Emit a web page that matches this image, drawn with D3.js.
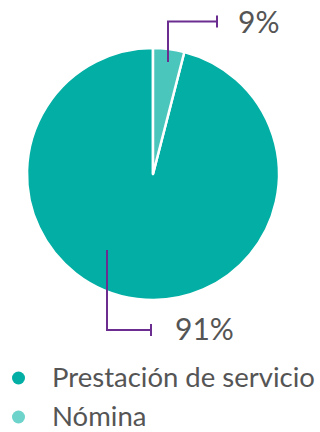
<!DOCTYPE html>
<html><head><meta charset="utf-8">
<script src="https://cdn.jsdelivr.net/npm/d3@7"></script>
<style>html,body{margin:0;padding:0;background:#fff;}svg{display:block;}</style>
</head><body>
<svg id="c" width="320" height="432"></svg>
<script>
const categories = ["Prestación de servicio", "Nómina"];
const sliceValues = [96, 4];          // angular share as drawn
const shareLabels = ["91%", "9%"];    // labels as printed
const colors = ["#03aea4", "#4bc6bc"];
const legendColors = ["#03aea4", "#6dd3cb"];

const svg = d3.select("#c");
const cx = 153, cy = 174, r = 126;
const font = "Lato, 'Source Sans Pro', sans-serif";

const total = d3.sum(sliceValues);
const start = 2 * Math.PI * sliceValues[1] / total;
const pie = d3.pie().sort(null).value(d => d).startAngle(start).endAngle(start + 2 * Math.PI);
const arcs = pie(sliceValues);
const arc = d3.arc().innerRadius(0).outerRadius(r);

const g = svg.append("g").attr("transform", `translate(${cx},${cy})`);
g.selectAll("path").data(arcs).join("path")
  .attr("d", arc)
  .attr("fill", (d, i) => colors[i])
  .attr("stroke", "#fff")
  .attr("stroke-width", 2.5)
  .attr("stroke-linejoin", "round");

// leader lines
const purple = "#6b2d8f";
const leaders = [
  {pts: [[107, 250], [107, 330], [151, 330]], tick: 151, ty: 330, label: shareLabels[0], lx: 175, ly: 340},
  {pts: [[168, 62], [168, 21.5], [217, 21.5]], tick: 217, ty: 21.5, label: shareLabels[1], lx: 238, ly: 33}
];
leaders.forEach(L => {
  svg.append("path")
    .attr("d", d3.line()(L.pts))
    .attr("fill", "none").attr("stroke", purple).attr("stroke-width", 2);
  svg.append("line")
    .attr("x1", L.tick).attr("x2", L.tick)
    .attr("y1", L.ty - 6).attr("y2", L.ty + 6)
    .attr("stroke", purple).attr("stroke-width", 2);
  svg.append("text")
    .attr("x", L.lx).attr("y", L.ly)
    .attr("font-family", font).attr("font-size", 30)
    .attr("fill", "#555").text(L.label);
});

// legend
const leg = svg.append("g");
categories.forEach((c, i) => {
  const ty = Math.min(387 + i * 44, 426);
  leg.append("circle").attr("cx", 18.5).attr("cy", ty - 9).attr("r", 6.5).attr("fill", legendColors[i]);
  leg.append("text").attr("x", 52).attr("y", ty)
    .attr("font-family", font).attr("font-size", 27.5)
    .attr("fill", "#555").text(c);
});
</script>
</body></html>
